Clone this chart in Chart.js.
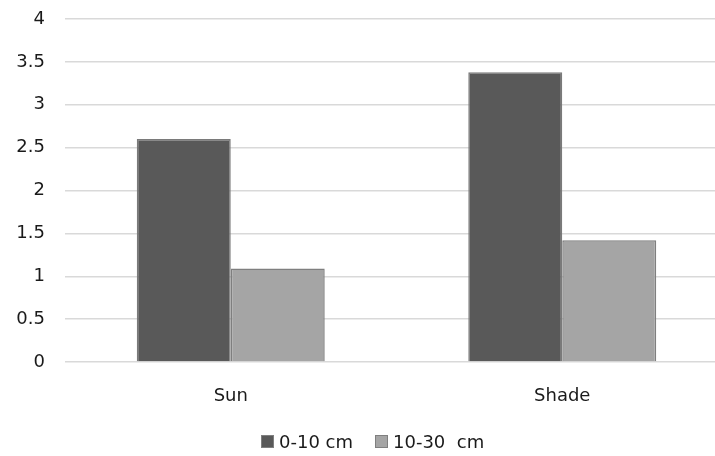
<!DOCTYPE html>
<html>
<head>
<meta charset="utf-8">
<script src="https://cdn.jsdelivr.net/npm/chart.js@4/dist/chart.umd.min.js"></script>
<style>
  html, body { margin: 0; padding: 0; background: #fff; overflow: hidden; }
  .wrap { position: relative; width: 730px; height: 456px; }
  .legend {
    position: absolute; left: 261px; top: 431px;
    font-family: "DejaVu Sans", Verdana, sans-serif; font-size: 18px; color: #1a1a1a;
    display: flex; align-items: center; white-space: pre;
  }
  .legend .box { width: 11px; height: 11px; border: 1px solid #7f7f7f; margin-right: 5px; }
  .legend .item { display: flex; align-items: center; margin-right: 22px; }
</style>
</head>
<body>
<div class="wrap">
  <canvas id="myChart" width="730" height="456"></canvas>
  <div class="legend" id="legend"></div>
</div>
<script>
const categories = ["Sun", "Shade"];
const seriesNames = ["0-10 cm", "10-30  cm"];
const depth0to10 = [2.6, 3.38];
const depth10to30 = [1.09, 1.42];
const seriesColors = ["#595959", "#a5a5a5"];

const textColor = "#1a1a1a";
const fontFamily = "'DejaVu Sans', Verdana, sans-serif";

// html legend so it can sit where the original one was
const legend = document.getElementById("legend");
seriesNames.forEach((name, i) => {
  const item = document.createElement("div");
  item.className = "item";
  const box = document.createElement("div");
  box.className = "box";
  box.style.background = seriesColors[i];
  const label = document.createElement("span");
  label.textContent = name;
  item.appendChild(box);
  item.appendChild(label);
  legend.appendChild(item);
});

const ctx = document.getElementById("myChart");
new Chart(ctx, {
  type: "bar",
  data: {
    labels: categories,
    datasets: [
      {
        label: seriesNames[0],
        data: depth0to10,
        backgroundColor: seriesColors[0],
        borderColor: "#7a7a7a",
        borderWidth: 1.5
      },
      {
        label: seriesNames[1],
        data: depth10to30,
        backgroundColor: seriesColors[1],
        borderColor: "#7f7f7f",
        borderWidth: 1.5
      }
    ]
  },
  options: {
    responsive: false,
    animation: false,
    layout: { padding: { top: 19, right: 2, bottom: 0, left: 0 } },
    datasets: {
      bar: { categoryPercentage: 0.567, barPercentage: 1 }
    },
    plugins: {
      legend: { display: false },
      tooltip: { enabled: false }
    },
    scales: {
      x: {
        grid: { display: false },
        border: { display: false },
        ticks: {
          color: textColor,
          font: { family: fontFamily, size: 18 },
          padding: 16
        },
        afterFit: (scale) => { scale.height = 94; }
      },
      y: {
        min: 0,
        max: 4,
        ticks: {
          stepSize: 0.5,
          color: textColor,
          font: { family: fontFamily, size: 18 },
          padding: 20,
          callback: (v) => String(v)
        },
        grid: { color: "#d9d9d9", lineWidth: 1.5, drawTicks: false },
        border: { display: false },
        afterFit: (scale) => {
          scale.width = 65;
          // tick padding gets added above the top label, drop it
          scale.paddingTop = 0;
          scale.paddingBottom = 0;
        }
      }
    }
  }
});
</script>
</body>
</html>
